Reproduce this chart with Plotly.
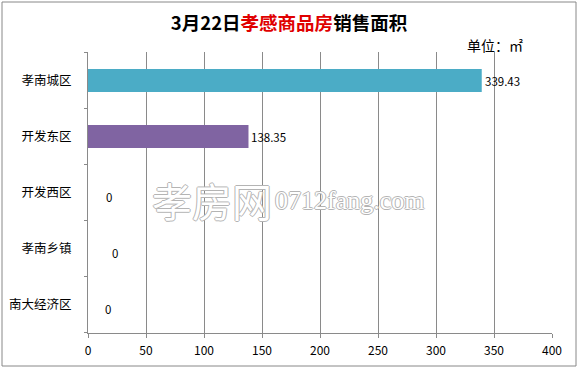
import plotly.graph_objects as go

categories = ["孝南城区", "开发东区", "开发西区", "孝南乡镇", "南大经济区"]
values = [339.43, 138.35, 0, 0, 0]
colors = ["#4BACC6", "#8064A2", "#4BACC6", "#4BACC6", "#4BACC6"]
value_labels = ["339.43", "138.35", "0", "0", "0"]
x_ticks = [0, 50, 100, 150, 200, 250, 300, 350, 400]

FONT = "Noto Sans CJK SC"

fig = go.Figure()
fig.add_trace(go.Bar(
    y=categories, x=values, orientation="h",
    marker=dict(color=colors, line=dict(width=0)),
    width=0.41,
    hoverinfo="skip",
))

# data labels
label_shift = [1, 1, 16, 22, 15]
label_yshift = [0, 0, -4, -4, -4]
for c, v, t, xs, ys in zip(categories, values, value_labels, label_shift, label_yshift):
    fig.add_annotation(x=v, y=c, text=t, showarrow=False, xanchor="left",
                       xshift=xs, yshift=ys,
                       font=dict(family=FONT, size=11.5, color="#000"))

# watermark (outlined text)
outline = "1px 0 0 #b4b4b4, -1px 0 0 #b4b4b4, 0 1px 0 #b4b4b4, 0 -1px 0 #b4b4b4"
fig.add_annotation(xref="paper", yref="paper", x=(150 - 88) / 464, y=0.473, text="孝房网",
                   showarrow=False, xanchor="left", yanchor="middle",
                   font=dict(family=FONT, size=40, color="white", shadow=outline))
fig.add_annotation(xref="paper", yref="paper", x=(273 - 88) / 464, y=0.473, text="0712fang.com",
                   showarrow=False, xanchor="left", yanchor="middle",
                   font=dict(family="Liberation Serif", size=26, color="white", shadow=outline))

# unit
fig.add_annotation(xref="paper", yref="paper", x=(525 - 88) / 464, y=(333 - 45) / 281,
                   text="单位：㎡",
                   showarrow=False, xanchor="right", yanchor="middle",
                   font=dict(family=FONT, size=14, color="#000"))

# outer border
fig.add_shape(type="rect", xref="paper", yref="paper",
              x0=(2 - 88) / 464, x1=(576 - 88) / 464,
              y0=(333 - 366) / 281, y1=(333 - 2) / 281,
              line=dict(color="#888888", width=1), layer="below")

fig.update_layout(
    width=579, height=369,
    margin=dict(l=88, r=27, t=52, b=36),
    paper_bgcolor="white", plot_bgcolor="white",
    showlegend=False,
    title=dict(
        text="<b>3月22日<span style='color:#E00000'>孝感商品房</span>销售面积</b>",
        x=(289 - 88) / 464, xref="paper", xanchor="center", y=0.935, yanchor="middle",
        font=dict(family=FONT, size=18.5, color="#000"),
    ),
    xaxis=dict(
        range=[0, 400], tickvals=x_ticks, ticktext=[str(t) for t in x_ticks],
        showgrid=True, gridcolor="#8a8a8a", gridwidth=1,
        showline=True, linecolor="#8a8a8a", linewidth=1,
        ticks="outside", ticklen=4, tickcolor="#8a8a8a",
        tickfont=dict(family=FONT, size=12, color="#000"),
        ticklabelstandoff=3,
        zeroline=False, fixedrange=True, automargin=False,
    ),
    yaxis=dict(
        categoryorder="array", categoryarray=categories, autorange="reversed",
        showline=True, linecolor="#8a8a8a", linewidth=1,
        ticks="", showgrid=False,
        tickfont=dict(family=FONT, size=12.5, color="#000"),
        ticklabelstandoff=13,
        fixedrange=True, automargin=False,
    ),
)

# category boundary tick marks on y axis (outside, between categories)
for i in range(len(categories) + 1):
    fig.add_shape(type="line", xref="paper", yref="y",
                  x0=-4 / 464, x1=0, y0=i - 0.5, y1=i - 0.5,
                  line=dict(color="#8a8a8a", width=1))

fig.write_html("out.html", config={"displayModeBar": False},
               post_script="document.body.style.margin='0';document.body.style.overflow='hidden';")
